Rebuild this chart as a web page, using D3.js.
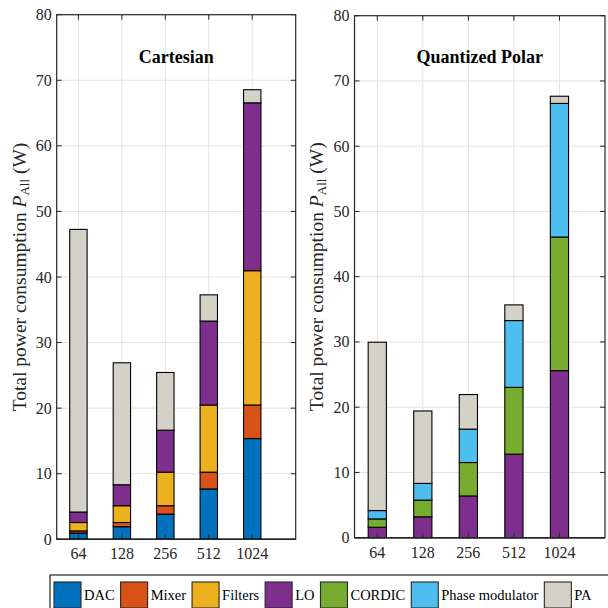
<!DOCTYPE html>
<html>
<head>
<meta charset="utf-8">
<script src="https://cdn.jsdelivr.net/npm/d3@7"></script>
<style>
  body { margin: 0; background: #fff; }
</style>
</head>
<body>
<svg width="608" height="608" font-family="'Liberation Serif', 'DejaVu Serif', 'Times New Roman', serif"></svg>
<script>
// categories (number of antennas)
const categories = ['64', '128', '256', '512', '1024'];

// Cartesian stack (W)
const cartDAC     = [0.96, 1.92, 3.84, 7.68, 15.36];
const cartMixer   = [0.32, 0.64, 1.28, 2.56, 5.12];
const cartFilters = [1.28, 2.56, 5.12, 10.24, 20.48];
const cartLO      = [1.6, 3.2, 6.4, 12.8, 25.6];
const cartPA      = [43.1, 18.6, 8.8, 4.0, 2.0];

// Quantized polar stack (W)
const polLO     = [1.6, 3.2, 6.4, 12.8, 25.6];
const polCORDIC = [1.28, 2.56, 5.12, 10.24, 20.48];
const polPM     = [1.28, 2.56, 5.12, 10.24, 20.48];
const polPA     = [25.8, 11.1, 5.3, 2.4, 1.1];

const yTicks = [0, 10, 20, 30, 40, 50, 60, 70, 80];

const legendNames = ['DAC', 'Mixer', 'Filters', 'LO', 'CORDIC', 'Phase modulator', 'PA'];
const colors = {
    'DAC': '#0072bd',
    'Mixer': '#d95319',
    'Filters': '#edb120',
    'LO': '#7e2f8e',
    'CORDIC': '#77ac30',
    'Phase modulator': '#4dbeee',
    'PA': '#d4d2c7'
};

const svg = d3.select('svg');

// builds one panel of stacked bars
function drawPanel(opts) {
    const x = d3.scaleLinear().domain([0.5, 6]).range([opts.left, opts.right]);
    const y = d3.scaleLinear().domain([0, 80]).range([opts.bottom, opts.top]);
    const g = svg.append('g');

    // grid
    g.selectAll('.hgrid').data(yTicks.slice(1, -1)).join('line')
        .attr('x1', opts.left).attr('x2', opts.right)
        .attr('y1', d => y(d)).attr('y2', d => y(d))
        .attr('stroke', '#e3e3e3').attr('stroke-width', 1);
    g.selectAll('.vgrid').data(categories).join('line')
        .attr('x1', (d, i) => x(i + 1)).attr('x2', (d, i) => x(i + 1))
        .attr('y1', opts.top).attr('y2', opts.bottom)
        .attr('stroke', '#e3e3e3').attr('stroke-width', 1);

    // stacked bars
    const rows = categories.map((c, i) => {
        const r = { cat: c, idx: i };
        opts.series.forEach(s => r[s.name] = s.values[i]);
        return r;
    });
    const stack = d3.stack().keys(opts.series.map(s => s.name))(rows);
    const barW = (x(2) - x(1)) * 0.4;

    g.selectAll('.layer').data(stack).join('g')
        .attr('fill', d => colors[d.key])
        .selectAll('rect').data(d => d).join('rect')
            .attr('x', d => x(d.data.idx + 1) - barW / 2)
            .attr('width', barW)
            .attr('y', d => y(d[1]))
            .attr('height', d => y(d[0]) - y(d[1]))
            .attr('stroke', '#000').attr('stroke-width', 1.1);

    // baseline
    g.append('line')
        .attr('x1', opts.left).attr('x2', opts.right)
        .attr('y1', y(0)).attr('y2', y(0))
        .attr('stroke', '#000').attr('stroke-width', 1.5);

    // ticks (inward, MATLAB style)
    const tk = 5;
    yTicks.forEach(v => {
        g.append('line').attr('x1', opts.left).attr('x2', opts.left + tk)
            .attr('y1', y(v)).attr('y2', y(v)).attr('stroke', '#262626');
        g.append('line').attr('x1', opts.right).attr('x2', opts.right - tk)
            .attr('y1', y(v)).attr('y2', y(v)).attr('stroke', '#262626');
    });
    categories.forEach((c, i) => {
        g.append('line').attr('x1', x(i + 1)).attr('x2', x(i + 1))
            .attr('y1', opts.bottom).attr('y2', opts.bottom - tk).attr('stroke', '#262626');
        g.append('line').attr('x1', x(i + 1)).attr('x2', x(i + 1))
            .attr('y1', opts.top).attr('y2', opts.top + tk).attr('stroke', '#262626');
    });

    // axes box
    g.append('rect')
        .attr('x', opts.left).attr('y', opts.top)
        .attr('width', opts.right - opts.left).attr('height', opts.bottom - opts.top)
        .attr('fill', 'none').attr('stroke', '#262626').attr('stroke-width', 1.2);

    // tick labels
    g.selectAll('.ylab').data(yTicks).join('text')
        .attr('x', opts.left - 5).attr('y', d => y(d) + 5.5)
        .attr('text-anchor', 'end').attr('font-size', 16).attr('fill', '#262626')
        .text(d => d);
    g.selectAll('.xlab').data(categories).join('text')
        .attr('x', (d, i) => x(i + 1)).attr('y', opts.bottom + 20)
        .attr('text-anchor', 'middle').attr('font-size', 16).attr('fill', '#262626')
        .text(d => d);

    // y label
    const yl = g.append('text')
        .attr('transform', `translate(${opts.labelX},${(opts.top + opts.bottom) / 2}) rotate(-90)`)
        .attr('text-anchor', 'middle').attr('font-size', 19.5).attr('fill', '#262626');
    yl.append('tspan').text('Total power consumption ');
    yl.append('tspan').attr('font-style', 'italic').text('P');
    yl.append('tspan').attr('font-size', 13).attr('dy', 3).text('All');
    yl.append('tspan').attr('dy', -3).text(' (W)');

    // title
    g.append('text')
        .attr('x', (opts.left + opts.right) / 2).attr('y', 63)
        .attr('text-anchor', 'middle').attr('font-size', 18).attr('font-weight', 'bold')
        .attr('fill', '#000')
        .text(opts.title);
}

drawPanel({
    title: 'Cartesian', left: 56.7, right: 295.7, top: 14.7, bottom: 539.3, labelX: 26,
    series: [
        { name: 'DAC', values: cartDAC },
        { name: 'Mixer', values: cartMixer },
        { name: 'Filters', values: cartFilters },
        { name: 'LO', values: cartLO },
        { name: 'PA', values: cartPA }
    ]
});

drawPanel({
    title: 'Quantized Polar', left: 354.5, right: 605, top: 15.7, bottom: 537.7, labelX: 323,
    series: [
        { name: 'LO', values: polLO },
        { name: 'CORDIC', values: polCORDIC },
        { name: 'Phase modulator', values: polPM },
        { name: 'PA', values: polPA }
    ]
});

// legend
const lg = svg.append('g');
lg.append('rect')
    .attr('x', 50).attr('y', 575).attr('width', 580).attr('height', 50)
    .attr('fill', '#fff').attr('stroke', '#262626').attr('stroke-width', 1.2);
let lx = 54;
legendNames.forEach(name => {
    lg.append('rect')
        .attr('x', lx).attr('y', 582).attr('width', 27).attr('height', 26)
        .attr('fill', colors[name]).attr('stroke', '#262626').attr('stroke-width', 1.1);
    const t = lg.append('text')
        .attr('x', lx + 30).attr('y', 600).attr('font-size', 14.5)
        .attr('fill', '#000')
        .text(name);
    lx += 30 + t.node().getComputedTextLength() + 6;
});
</script>
</body>
</html>
